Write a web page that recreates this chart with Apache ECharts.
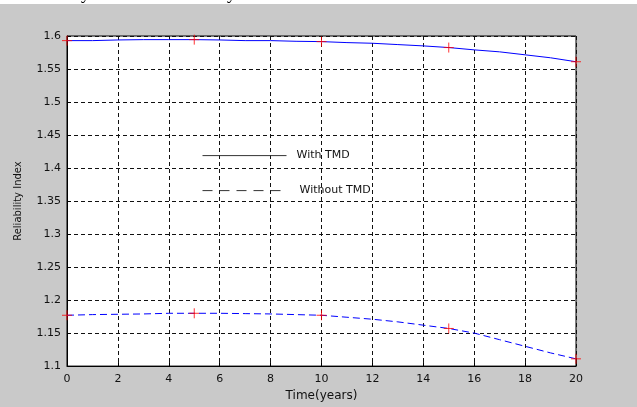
<!DOCTYPE html>
<html>
<head>
<meta charset="utf-8">
<script src="https://cdn.jsdelivr.net/npm/echarts@6/dist/echarts.min.js"></script>
<style>
html,body{margin:0;padding:0;background:#c9c9c9;}
#chart{width:637px;height:407px;}
</style>
</head>
<body>
<div id="chart"></div>
<script>
const years = [0,1,2,3,4,5,6,7,8,9,10,11,12,13,14,15,16,17,18,19,20];
const withTMD = [1.593,1.593,1.594,1.5945,1.5945,1.5945,1.594,1.593,1.593,1.592,1.5915,1.590,1.589,1.587,1.585,1.5825,1.579,1.576,1.5715,1.567,1.561];
const withoutTMD = [1.177,1.178,1.1785,1.179,1.180,1.180,1.180,1.1795,1.179,1.178,1.177,1.174,1.171,1.167,1.162,1.157,1.150,1.140,1.130,1.120,1.111];
const markerYears = [0,5,10,15,20];
const seriesNames = ['With TMD','Without TMD'];
const xAxisTitle = 'Time(years)';
const yAxisTitle = 'Reliability Index';

const pairs = (ys) => years.map((x,i)=>[x, ys[i]]);
const markers = (ys) => markerYears.map(x => [x, ys[years.indexOf(x)]]);

const font = '"DejaVu Sans", sans-serif';
const chart = echarts.init(document.getElementById('chart'), null, {renderer:'canvas'});
const crossPath = 'path://M0,5L10,5M5,0L5,10';
const hiddenSymbol = {color:'rgba(0,0,0,0)', borderWidth:0, opacity:0};

chart.setOption({
  backgroundColor:'#c9c9c9',
  animation:false,
  textStyle:{fontFamily:font},
  graphic:[
    {type:'rect', left:0, top:0, shape:{x:0,y:0,width:637,height:4}, style:{fill:'#ffffff'}, z:1},
    {type:'text', z:2, style:{text:'Reliability', x:90, y:-6, align:'right', verticalAlign:'middle', font:'18px "Liberation Serif"', fill:'#000'}},
    {type:'text', z:2, style:{text:'by', x:236, y:-6, align:'right', verticalAlign:'middle', font:'18px "Liberation Serif"', fill:'#000'}}
  ],
  grid:{left:67, right:61, top:36, bottom:39, show:true, backgroundColor:'#ffffff', borderColor:'#000', borderWidth:1},
  legend:[
    {left:202, top:150, padding:0, itemWidth:84, itemHeight:14, selectedMode:false,
     textStyle:{fontFamily:font, fontSize:11, color:'#111', padding:[0,0,0,5]},
     data:[{name:seriesNames[0], itemStyle:hiddenSymbol, lineStyle:{color:'#333', type:'solid', width:1}}]},
    {left:202, top:185, padding:0, itemWidth:84, itemHeight:14, selectedMode:false,
     textStyle:{fontFamily:font, fontSize:11, color:'#111', padding:[0,0,0,8]},
     data:[{name:seriesNames[1], itemStyle:hiddenSymbol, lineStyle:{color:'#333', type:[10,7], width:1}}]}
  ],
  xAxis:{
    type:'value', min:0, max:20, interval:2,
    name:xAxisTitle, nameLocation:'middle', nameGap:21,
    nameTextStyle:{fontFamily:font, fontSize:12, color:'#111'},
    axisLine:{show:true, lineStyle:{color:'#000', width:1}},
    axisTick:{show:true, inside:true, length:4, lineStyle:{color:'#000'}},
    axisLabel:{margin:8, fontFamily:font, fontSize:11, color:'#111'},
    splitLine:{show:true, lineStyle:{color:'#111', type:[4,3], width:1}}
  },
  yAxis:{
    type:'value', min:1.1, max:1.6, interval:0.05,
    name:yAxisTitle, nameLocation:'middle', nameGap:44,
    nameTextStyle:{fontFamily:font, fontSize:10, color:'#111'},
    axisLine:{show:true, lineStyle:{color:'#000', width:1}},
    axisTick:{show:true, inside:true, length:4, lineStyle:{color:'#000'}},
    axisLabel:{margin:6, fontFamily:font, fontSize:11, color:'#111',
      formatter:(v)=>String(parseFloat(v.toFixed(2)))},
    splitLine:{show:true, lineStyle:{color:'#111', type:[4,3], width:1}}
  },
  series:[
    {name:seriesNames[0], type:'line', data:pairs(withTMD), symbol:'none', smooth:false,
     lineStyle:{color:'#0000ff', width:1, type:'solid'}, itemStyle:{color:'#0000ff'}, z:3},
    {name:seriesNames[1], type:'line', data:pairs(withoutTMD), symbol:'none', smooth:false,
     lineStyle:{color:'#0000ff', width:1, type:[7,4]}, itemStyle:{color:'#0000ff'}, z:3},
    {name:'m1', type:'scatter', data:markers(withTMD), symbol:crossPath, symbolSize:10, clip:false,
     itemStyle:{color:'rgba(0,0,0,0)', borderColor:'#ff0000', borderWidth:1}, z:4, silent:true},
    {name:'m2', type:'scatter', data:markers(withoutTMD), symbol:crossPath, symbolSize:10, clip:false,
     itemStyle:{color:'rgba(0,0,0,0)', borderColor:'#ff0000', borderWidth:1}, z:4, silent:true}
  ]
});
</script>
</body>
</html>
